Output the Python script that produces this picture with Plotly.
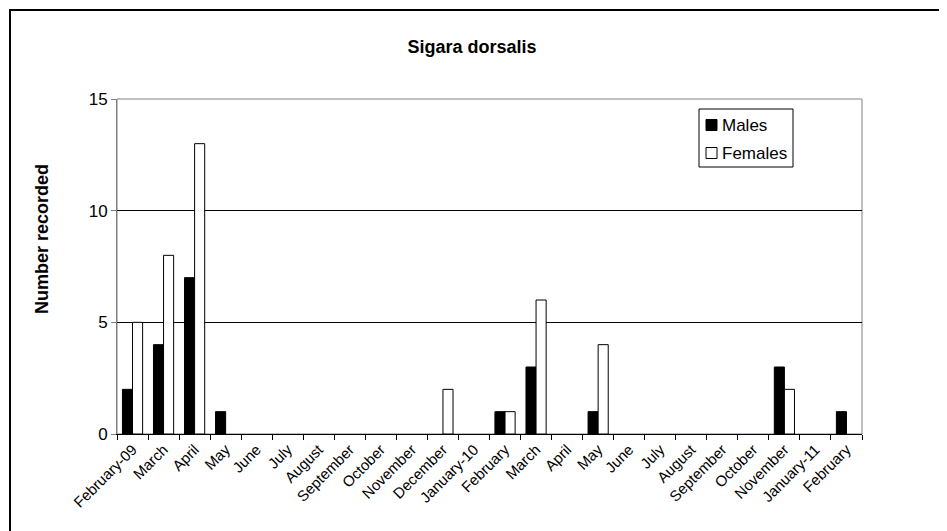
import plotly.graph_objects as go

categories = ["February-09", "March", "April", "May", "June", "July", "August",
              "September", "October", "November", "December", "January-10",
              "February", "March", "April", "May", "June", "July", "August",
              "September", "October", "November", "January-11", "February"]
males = [2, 4, 7, 1, 0, 0, 0, 0, 0, 0, 0, 0, 1, 3, 0, 1, 0, 0, 0, 0, 0, 3, 0, 1]
females = [5, 8, 13, 0, 0, 0, 0, 0, 0, 0, 2, 0, 1, 6, 0, 4, 0, 0, 0, 0, 0, 2, 0, 0]
y_ticks = [0, 5, 10, 15]
series_names = ["Males", "Females"]
series_fill = ["black", "white"]

xpos = list(range(len(categories)))

fig = go.Figure()
for name, vals, fill in zip(series_names, [males, females], series_fill):
    fig.add_trace(go.Bar(x=xpos, y=vals, name=name, showlegend=False,
                         marker=dict(color=fill,
                                     line=dict(color="black",
                                               width=[1 if v else 0 for v in vals]))))

OFF = 8  # page body margin
L, R, T, B = 117 - OFF, 947 - (862 - OFF), 99 - OFF, 531 - (434 - OFF)
W, H = 947, 531
pw, ph = W - L - R, H - T - B


def px(x):  # page pixel x -> paper x
    return (x - OFF - L) / pw


def py(y):  # page pixel y -> paper y
    return (H - B - (y - OFF)) / ph


fig.update_layout(
    width=W, height=H,
    margin=dict(l=L, r=R, t=T, b=B, autoexpand=False),
    paper_bgcolor="white", plot_bgcolor="white",
    barmode="group", bargap=0.35, bargroupgap=0,
    font=dict(family="Liberation Sans, Arial, sans-serif", color="black", size=17),
    title=dict(text="<b>Sigara dorsalis</b>", x=(472 - OFF) / W, xanchor="center",
               y=1 - (47 - OFF) / H, yanchor="middle", font=dict(size=18)),
    showlegend=False,
)

fig.update_xaxes(
    range=[-0.5, len(categories) - 0.5],
    tickmode="array", tickvals=xpos, ticktext=categories,
    tickangle=-45, ticks="", tickfont=dict(size=15),
    showline=True, linecolor="black", linewidth=1,
    showgrid=False, zeroline=False,
    minor=dict(tickmode="array", tickvals=[i - 0.5 for i in range(len(categories) + 1)],
               ticks="outside", ticklen=5, tickcolor="black", showgrid=False),
)
fig.update_yaxes(
    range=[0, 15], tickmode="array", tickvals=y_ticks,
    ticks="outside", ticklen=5, tickcolor="#808080",
    showline=True, linecolor="#808080", linewidth=1,
    showgrid=True, gridcolor="black", gridwidth=1, zeroline=False,
    tickfont=dict(size=17),
)

# y-axis title
fig.add_annotation(text="<b>Number recorded</b>", xref="paper", yref="paper",
                   x=px(42), y=py(239), textangle=-90, showarrow=False,
                   xanchor="center", yanchor="middle", font=dict(size=18))

# plot area border (grey) and outer chart border (black)
fig.add_shape(type="rect", xref="paper", yref="paper", x0=0, x1=1, y0=0, y1=1,
              line=dict(color="#808080", width=1), layer="below")
fig.add_shape(type="rect", xref="paper", yref="paper",
              x0=px(10), x1=px(970), y0=py(555), y1=py(10),
              line=dict(color="black", width=2))

# legend box
fig.add_shape(type="rect", xref="paper", yref="paper",
              x0=px(699), x1=px(793), y0=py(167), y1=py(109),
              line=dict(color="black", width=1), fillcolor="white")
row_y = [125, 153]
for name, fill, yc in zip(series_names, series_fill, row_y):
    fig.add_shape(type="rect", xref="paper", yref="paper",
                  x0=px(706), x1=px(717), y0=py(yc + 5.5), y1=py(yc - 5.5),
                  line=dict(color="black", width=1), fillcolor=fill)
    fig.add_annotation(text=name, xref="paper", yref="paper", x=px(720), y=py(yc),
                       xanchor="left", yanchor="middle", showarrow=False,
                       font=dict(size=17))

fig.write_html("out.html")
